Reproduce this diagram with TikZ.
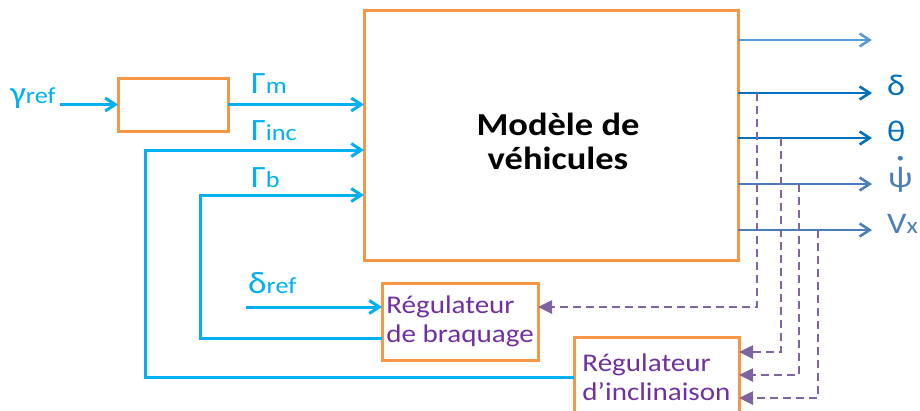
\documentclass[tikz,border=0pt]{standalone}
\usepackage{fontspec}
\setmainfont{Carlito}[FakeStretch=1.14]
\usetikzlibrary{positioning, arrows.meta, calc}

\definecolor{sigcyan}{HTML}{00B0F0}
\definecolor{boxorange}{HTML}{F79646}
\definecolor{outblue}{HTML}{0070C0}
\definecolor{outsteel}{HTML}{4A7EBB}
\definecolor{outlight}{HTML}{5B9BD5}
\definecolor{fbpurple}{HTML}{8064A2}
\definecolor{regpurple}{HTML}{7030A0}

\newcommand{\indice}[1]{{\fontsize{23}{23}\selectfont #1}}
\newcommand{\pointpsi}{{\ooalign{ψ\cr\hidewidth\raisebox{10pt}{\bfseries ˙}\hidewidth\cr}}}

\begin{document}
\begin{tikzpicture}[x=1pt, y=-1pt,
    bloc/.style={draw=boxorange, line width=3pt, inner sep=0pt, outer sep=0pt},
    regbloc/.style={bloc, align=left, text=regpurple, font=\fontsize{25.5}{28.5}\selectfont},
    sig/.style={draw=sigcyan, line width=3pt, -{Straight Barb[length=10pt,width=13pt]}},
    sortie/.style={line width=2.6pt, -{Straight Barb[length=10pt,width=13pt]}},
    retour/.style={draw=fbpurple, line width=2.6pt, dash pattern=on 8pt off 5pt, -{Triangle[length=14pt,width=13pt]}},
    lab/.style={anchor=base west, inner sep=0pt, text=sigcyan, font=\fontsize{31}{31}\selectfont},
    outlab/.style={anchor=base west, inner sep=0pt, font=\fontsize{30}{30}\selectfont}]

\useasboundingbox (0,0) rectangle (920,410);
\clip (0,0) rectangle (920,410);

% Blocs
\node[bloc, minimum width=374pt, minimum height=250pt] (modele) at (551,135) {};
\node[align=center, font=\fontsize{32}{34}\selectfont\bfseries] (titre) at ($(modele)+(7,6)$) {Modèle de\\véhicules};
\node[bloc, minimum width=110pt, minimum height=53pt] (gen) at (173,104.5) {};
\node[regbloc, minimum width=156pt, minimum height=77pt] (braq) at (460,321.5) {Régulateur\\de braquage};
\node[regbloc, minimum width=165pt, minimum height=80pt] (incl) at (656.5,377) {Régulateur\\d’inclinaison};

% Entrées
\node[lab] (gref) at (10,103) {γ\indice{ref}};
\draw[sig] ([xshift=4pt]gref.east |- gen.west) -- (gen.west);

\node[lab] (gm) at (251,93) {Γ\indice{m}};
\draw[sig] (gen.east) -- (gen.east -| modele.west);

\node[lab] (ginc) at (251,140) {Γ\indice{inc}};
\coordinate (incA) at (145,150);
\draw[sig] (incl.west) -| (incA) -- (incA -| modele.west);

\node[lab] (gb) at (251,187) {Γ\indice{b}};
\coordinate (bA) at (200,195);
\draw[sig] ([yshift=-16.5pt]braq.west) -| (bA) -- (bA -| modele.west);

\node[lab] (dref) at (248,293) {δ\indice{ref}};
\coordinate (drefA) at (246,307);
\draw[sig] (drefA) -- (drefA -| braq.west);

% Sorties
\foreach \y/\col/\nom in {40/outlight/s0, 93/outblue/s1, 138/outblue/s2, 184/outsteel/s3, 230/outsteel/s4} {
    \coordinate (\nom) at (872,\y);
    \draw[sortie, draw=\col] (modele.east |- \nom) -- (\nom);
}
\node[outlab, text=outblue] (ldelta) at (887,95) {δ};
\node[outlab, text=outblue] (ltheta) at (887,141) {θ};
\node[outlab, text=outsteel] (lpsi) at (888,187) {\pointpsi};
\node[outlab, text=outsteel] (lvx) at (887,233) {V\indice{x}};

% Retours
\coordinate (r1) at (757,93);
\coordinate (r2) at (781,138);
\coordinate (r3) at (799,184);
\coordinate (r4) at (818,230);
\draw[retour] (r1) |- ([yshift=14.5pt]braq.east);
\draw[retour] (r2) |- ([yshift=25pt]incl.east);
\draw[retour] (r3) |- ([yshift=2pt]incl.east);
\draw[retour] (r4) |- ([yshift=-21pt]incl.east);

\end{tikzpicture}
\end{document}
